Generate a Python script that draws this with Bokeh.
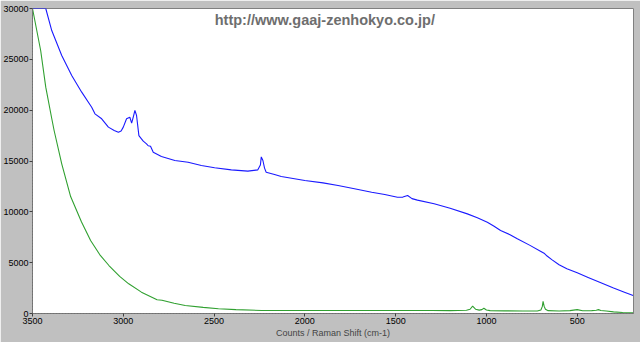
from bokeh.plotting import figure
from bokeh.models import Range1d, FixedTicker, Label
from bokeh.embed import file_html
from bokeh.resources import INLINE

# Blue spectrum (Raman shift cm-1, counts)
blue_shift = [3500, 3427, 3394, 3339, 3284, 3229, 3174, 3156, 3119, 3082, 3050, 3027, 3012, 3000,
              2982, 2964, 2954, 2944, 2936, 2927, 2914, 2900, 2890, 2872, 2863, 2850, 2835,
              2790, 2716, 2643, 2570, 2497, 2405, 2314, 2259, 2245, 2240, 2231, 2222, 2213,
              2167, 2130, 2000, 1900, 1817, 1720, 1632, 1560, 1490, 1460, 1434, 1410, 1380,
              1288, 1200, 1105, 1050, 995, 960, 922, 870, 830, 760, 700, 680, 666, 640, 600,
              557, 500, 440, 373, 300, 240, 192]
blue_counts = [30000, 30000, 27830, 25380, 23410, 21770, 20290, 19640, 19150, 18330, 18000, 17830,
               17950, 18330, 19150, 19310, 18720, 19400, 19970, 19480, 17500, 17180, 16950,
               16690, 16500, 16450, 15870, 15440, 15050, 14880, 14560, 14330, 14130, 14000,
               14130, 14600, 15400, 15050, 14300, 13900, 13670, 13470, 13080, 12850, 12590,
               12250, 11930, 11700, 11440, 11450, 11610, 11300, 11150, 10790, 10350, 9800,
               9420, 8980, 8600, 8160, 7750, 7350, 6700, 6100, 5900, 5650, 5300, 4800, 4400,
               4000, 3550, 3050, 2500, 2100, 1770]

# Green spectrum
green_shift = [3500, 3455, 3427, 3394, 3381, 3339, 3290, 3230, 3180, 3130, 3079, 3020, 2970,
               2900, 2814, 2787, 2720, 2659, 2560, 2476, 2380, 2238, 2100, 2000, 1800, 1600,
               1500, 1300, 1200, 1110, 1090, 1076, 1060, 1040, 1025, 1014, 1000, 980, 900, 800,
               720, 700, 692, 688, 682, 675, 660, 600, 540, 500, 470, 420, 395, 383, 370, 340,
               300, 250, 192]
green_counts = [30000, 25870, 22260, 19180, 18000, 14720, 11500, 9000, 7180, 5800, 4720, 3650, 2920,
                2100, 1350, 1300, 1000, 790, 600, 460, 380, 300, 290, 290, 300, 300, 300, 290,
                280, 320, 420, 720, 420, 330, 380, 520, 350, 280, 260, 250, 250, 350, 700, 1200,
                700, 420, 280, 250, 280, 380, 270, 280, 320, 380, 300, 250, 160, 100, 60]

x_ticks = [3500, 3000, 2500, 2000, 1500, 1000, 500]
y_ticks = [0, 5000, 10000, 15000, 20000, 25000, 30000]

p = figure(width=640, height=342, output_backend="svg", toolbar_location=None,
           x_range=Range1d(3500, 190), y_range=Range1d(0, 30000),
           min_border_left=30, min_border_right=7, min_border_top=8, min_border_bottom=29)

p.border_fill_color = "#c0c0c0"
p.background_fill_color = "white"
p.outline_line_color = "#808080"
p.outline_line_width = 1
p.grid.visible = False

for ax in (p.xaxis[0], p.yaxis[0]):
    ax.ticker = FixedTicker(ticks=x_ticks if ax is p.xaxis[0] else y_ticks)
    ax.axis_line_color = "#707070"
    ax.axis_line_dash = "2 1"
    ax.major_tick_line_color = "#404040"
    ax.major_tick_out = 3
    ax.major_tick_in = 0
    ax.minor_tick_out = 0
    ax.minor_tick_in = 0
    ax.major_label_text_font = "Liberation Sans"
    ax.major_label_text_font_size = "9px"
    ax.major_label_text_color = "black"
    ax.major_label_standoff = 1

p.yaxis[0].formatter.use_scientific = False
p.xaxis[0].axis_label = "Counts / Raman Shift (cm-1)"
p.xaxis[0].axis_label_text_font = "Liberation Sans"
p.xaxis[0].axis_label_text_font_size = "9px"
p.xaxis[0].axis_label_text_font_style = "normal"
p.xaxis[0].axis_label_standoff = 1

p.line(green_shift, green_counts, line_color="#30a030", line_width=1.1)
p.line(blue_shift, blue_counts, line_color="#1a1aff", line_width=1.1)

p.add_layout(Label(x=1890, y=28900, text="http://www.gaaj-zenhokyo.co.jp/",
                   text_align="center", text_baseline="middle",
                   text_font="Liberation Sans", text_font_size="14.5px",
                   text_font_style="bold", text_color="#6e6e6e"))

open("out.html", "w").write(file_html(p, INLINE))
